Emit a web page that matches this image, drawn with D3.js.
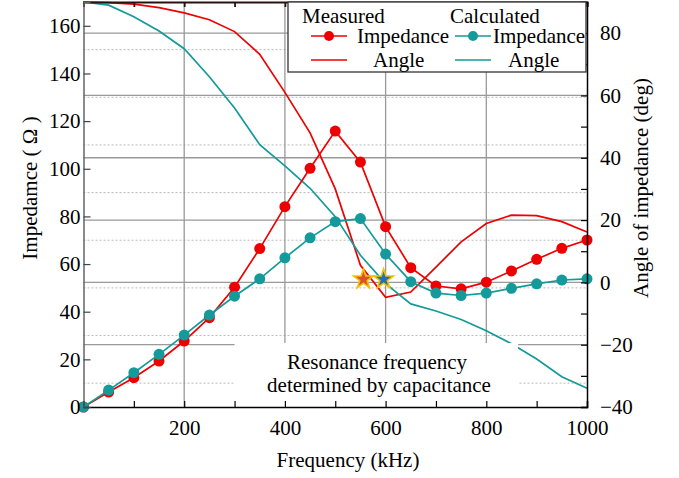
<!DOCTYPE html>
<html>
<head>
<meta charset="utf-8">
<script src="https://cdn.jsdelivr.net/npm/d3@7"></script>
<style>
  body { margin: 0; background: #fff; }
  svg, svg text { font-family: "Liberation Serif", "Times New Roman", "DejaVu Serif", serif; }
</style>
</head>
<body>
<svg id="chart" width="679" height="478"></svg>
<script>
const freq = [0, 50, 100, 150, 200, 250, 300, 350, 400, 450, 500, 550, 600, 650, 700, 750, 800, 850, 900, 950, 1000];
const measuredImpedance = [0, 6.3, 12.3, 19.3, 27.7, 37.5, 50.3, 66.5, 84.1, 100.2, 115.8, 102.8, 75.7, 58.5, 50.8, 49.6, 52.4, 57.1, 62, 66.6, 70.1];
const calculatedImpedance = [0, 7.1, 14.4, 22.1, 30.2, 38.6, 46.5, 53.8, 62.6, 71.0, 77.8, 79.1, 64.2, 52.6, 47.8, 46.8, 47.8, 49.8, 51.7, 53.3, 53.8];
const measuredAngle = [90, 89.8, 89.3, 88.2, 86.5, 84.3, 80.5, 73.2, 61, 48, 30, 5.5, -4.8, -3.1, 4.9, 13, 18.9, 21.6, 21.4, 19.5, 16.2];
const calculatedAngle = [90, 89, 85.3, 80.7, 75, 66, 56, 44.2, 37.4, 30.2, 21.1, 8.7, -0.4, -6.9, -9.2, -11.9, -15.5, -19.7, -24.6, -30.3, -34];
const resonanceFreqs = [556, 596];
const resonanceAngle = [1, 1];

const xTicks = [200, 400, 600, 800, 1000];
const xGrid = [200, 400, 600, 800];
const leftTicks = [0, 20, 40, 60, 80, 100, 120, 140, 160];
const leftDotted = [10, 30, 50, 70, 90, 110, 130, 150];
const rightTicks = [-40, -20, 0, 20, 40, 60, 80];
const rightGrid = [-20, 0, 20, 40, 60, 80];

const RED = "#ee0000", TEAL = "#149a9a";
const FONT = "'Liberation Serif', 'Times New Roman', 'DejaVu Serif', serif";

const svg = d3.select("#chart").attr("font-family", FONT);
const m = { left: 83.5, right: 587, top: 2, bottom: 407 };

const x = d3.scaleLinear().domain([0, 1000]).range([m.left, m.right]);
const yL = d3.scaleLinear().domain([0, 170]).range([m.bottom, m.top]);
const yR = d3.scaleLinear().domain([-40, 90]).range([m.bottom, m.top]);

// grid
const grid = svg.append("g");
grid.selectAll(".dot").data(leftDotted).join("line")
  .attr("x1", m.left).attr("x2", m.right)
  .attr("y1", d => yL(d)).attr("y2", d => yL(d))
  .attr("stroke", "#bbb").attr("stroke-width", 1).attr("stroke-dasharray", "2,2");
grid.selectAll(".hr").data(rightGrid).join("line")
  .attr("x1", m.left).attr("x2", m.right)
  .attr("y1", d => yR(d)).attr("y2", d => yR(d))
  .attr("stroke", "#999").attr("stroke-width", 1.3);
grid.selectAll(".vr").data(xGrid).join("line")
  .attr("x1", d => x(d)).attr("x2", d => x(d))
  .attr("y1", m.top).attr("y2", m.bottom)
  .attr("stroke", "#999").attr("stroke-width", 1.3);

// lines
const lineL = d3.line().x((d, i) => x(freq[i])).y(d => yL(d));
const lineR = d3.line().x((d, i) => x(freq[i])).y(d => yR(d));
const plot = svg.append("g");

plot.append("path").datum(measuredAngle).attr("d", lineR)
  .attr("fill", "none").attr("stroke", RED).attr("stroke-width", 1.7);
plot.append("path").datum(calculatedAngle).attr("d", lineR)
  .attr("fill", "none").attr("stroke", TEAL).attr("stroke-width", 1.7);

plot.append("path").datum(measuredImpedance).attr("d", lineL)
  .attr("fill", "none").attr("stroke", RED).attr("stroke-width", 1.7);
plot.selectAll(".mi").data(measuredImpedance).join("circle")
  .attr("cx", (d, i) => x(freq[i])).attr("cy", d => yL(d)).attr("r", 5.5).attr("fill", RED);

plot.append("path").datum(calculatedImpedance).attr("d", lineL)
  .attr("fill", "none").attr("stroke", TEAL).attr("stroke-width", 1.7);
plot.selectAll(".ci").data(calculatedImpedance).join("circle")
  .attr("cx", (d, i) => x(freq[i])).attr("cy", d => yL(d)).attr("r", 5.5).attr("fill", TEAL);

// resonance stars
const starColors = ["#d9502c", "#1f6fc0"];
plot.selectAll(".star").data(resonanceFreqs).join("path")
  .attr("d", d3.symbol().type(d3.symbolStar).size(120))
  .attr("transform", (d, i) => `translate(${x(d)},${yR(resonanceAngle[i])})`)
  .attr("fill", (d, i) => starColors[i])
  .attr("stroke", "#f5c000").attr("stroke-width", 1.6);

// annotation box
svg.append("rect").attr("x", x(300)).attr("y", 343)
  .attr("width", 518 - x(300)).attr("height", m.bottom - 343).attr("fill", "#fff");
svg.append("text").attr("x", 377).attr("y", 369).attr("text-anchor", "middle")
  .attr("font-size", 21).text("Resonance frequency");
svg.append("text").attr("x", 379).attr("y", 392).attr("text-anchor", "middle")
  .attr("font-size", 21).text("determined by capacitance");

// axes
const minorX = d3.range(0, 1001, 100);
svg.append("g").attr("transform", `translate(0,${m.bottom})`)
  .call(d3.axisBottom(x).tickValues(minorX).tickSize(-6).tickFormat(""))
  .call(g => g.select(".domain").attr("stroke", "#000").attr("stroke-width", 1.5))
  .call(g => g.selectAll("line").attr("stroke", "#000").attr("stroke-width", 1.2));
svg.append("g").attr("transform", `translate(0,${m.bottom})`)
  .call(d3.axisBottom(x).tickValues(xTicks).tickSize(0).tickPadding(13).tickFormat(d3.format("d")))
  .attr("font-family", FONT)
  .call(g => g.select(".domain").remove())
  .call(g => g.selectAll("text").attr("font-size", 21).attr("fill", "#000"));

svg.append("g").attr("transform", `translate(0,${m.top})`)
  .call(d3.axisTop(x).tickValues(minorX).tickSize(-5).tickFormat(""))
  .call(g => g.select(".domain").attr("stroke", "#2a1010").attr("stroke-width", 2))
  .call(g => g.selectAll("line").attr("stroke", "#2a1010").attr("stroke-width", 1.8));

svg.append("g").attr("transform", `translate(${m.left},0)`)
  .call(d3.axisLeft(yL).tickValues(leftTicks).tickSize(-7).tickPadding(3))
  .attr("font-family", FONT)
  .call(g => g.select(".domain").attr("stroke", "#666").attr("stroke-width", 1.5))
  .call(g => g.selectAll("line").attr("stroke", "#444").attr("stroke-width", 1.2))
  .call(g => g.selectAll("text").attr("font-size", 21).attr("fill", "#000"));

svg.append("g").attr("transform", `translate(${m.right},0)`)
  .call(d3.axisRight(yR).tickValues(d3.range(-40, 91, 10)).tickSize(-6).tickFormat(""))
  .call(g => g.select(".domain").attr("stroke", "#000").attr("stroke-width", 1.5))
  .call(g => g.selectAll("line").attr("stroke", "#000").attr("stroke-width", 1.2));
svg.append("g").attr("transform", `translate(${m.right},0)`)
  .call(d3.axisRight(yR).tickValues(rightTicks).tickSize(0).tickPadding(13))
  .attr("font-family", FONT)
  .call(g => g.select(".domain").remove())
  .call(g => g.selectAll("text").attr("font-size", 21).attr("fill", "#000"));

// axis titles
svg.append("text").attr("x", 348).attr("y", 467).attr("text-anchor", "middle")
  .attr("font-size", 21).text("Frequency (kHz)");
svg.append("text").attr("transform", "translate(37,188) rotate(-90)").attr("text-anchor", "middle")
  .attr("font-size", 21).text("Impedamce ( \u03A9 )");
svg.append("text").attr("transform", "translate(648,188) rotate(-90)").attr("text-anchor", "middle")
  .attr("font-size", 21).text("Angle of impedance (deg)");

// legend
const lg = svg.append("g");
lg.append("rect").attr("x", 288).attr("y", 2).attr("width", 298).attr("height", 70)
  .attr("fill", "#fff").attr("stroke", "#333").attr("stroke-width", 1.3);
lg.append("text").attr("x", 302).attr("y", 23).attr("font-size", 21).text("Measured");
lg.append("text").attr("x", 450).attr("y", 23).attr("font-size", 21).text("Calculated");
const legendRows = [
  { x0: 311, y: 36, color: RED, dot: true, label: "Impedance", tx: 357 },
  { x0: 455, y: 36, color: TEAL, dot: true, label: "Impedance", tx: 493 },
  { x0: 311, y: 60, color: RED, dot: false, label: "Angle", tx: 373 },
  { x0: 455, y: 60, color: TEAL, dot: false, label: "Angle", tx: 508 }
];
legendRows.forEach(r => {
  lg.append("line").attr("x1", r.x0).attr("x2", r.x0 + 36).attr("y1", r.y).attr("y2", r.y)
    .attr("stroke", r.color).attr("stroke-width", 1.7);
  if (r.dot) lg.append("circle").attr("cx", r.x0 + 18).attr("cy", r.y).attr("r", 5).attr("fill", r.color);
  lg.append("text").attr("x", r.tx).attr("y", r.y + 7).attr("font-size", 21).text(r.label);
});
</script>
</body>
</html>
